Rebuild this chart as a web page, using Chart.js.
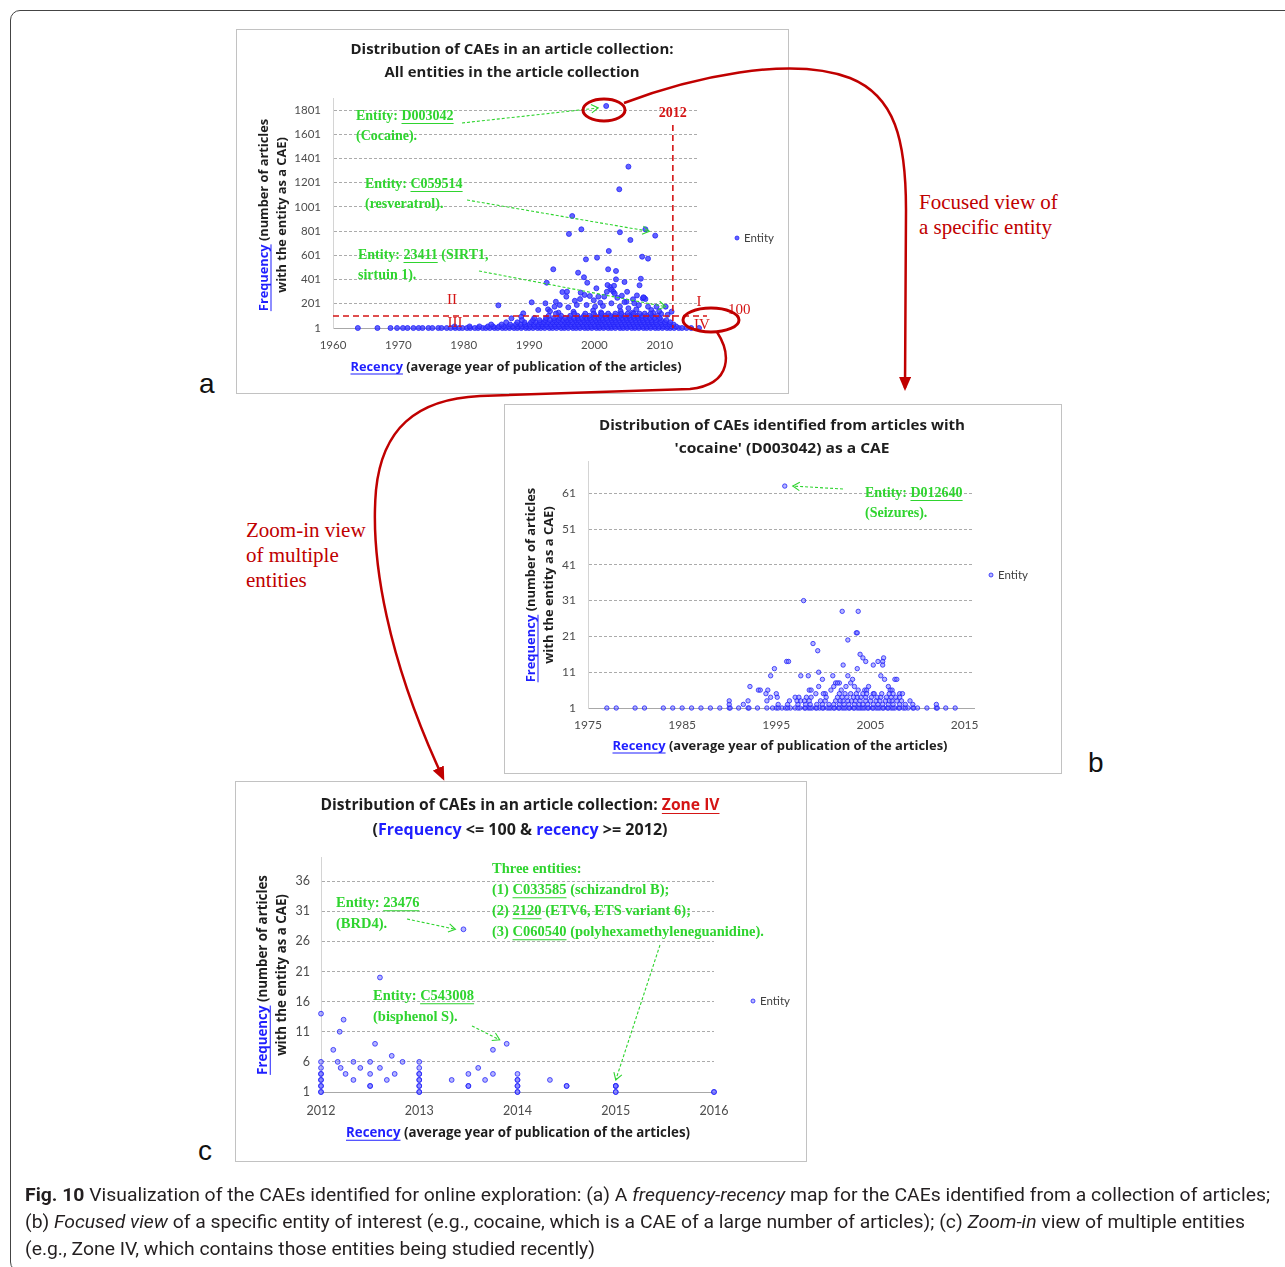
<!DOCTYPE html>
<html>
<head>
<meta charset="utf-8">
<script src="https://cdn.jsdelivr.net/npm/chart.js@4.4.1/dist/chart.umd.min.js"></script>
<style>
  body { margin: 0; background: #fff; }
  #page { position: relative; width: 1285px; height: 1267px; overflow: hidden; background: #fff; }
  #frame { position: absolute; left: 10px; top: 10px; width: 1300px; height: 1262px; border: 1px solid #444; border-radius: 10px; box-sizing: border-box; }
  .panel { position: absolute; outline: 1px solid #c2c2c2; background: #fff; }
  .panel canvas { display: block; }
  .letter { position: absolute; font: 28px 'Liberation Sans', Arial, sans-serif; color: #111; line-height: 32px; }
  .note { position: absolute; font: 21px 'Liberation Serif', 'Times New Roman', serif; color: #c00000; line-height: 25px; white-space: nowrap; }
  #caption { position: absolute; left: 25px; top: 1181px; font: 18px 'Liberation Sans Narrow', 'Roboto', sans-serif; color: #231f20; }
  #caption div { white-space: nowrap; height: 27px; line-height: 27px; }
  #caption span { display: inline-block; transform-origin: 0 50%; }
  svg { position: absolute; left: 0; top: 0; pointer-events: none; }
</style>
</head>
<body>
<div id="page">
  <div id="frame"></div>

  <div class="panel" style="left:237px;top:30px;"><canvas id="chartA" width="551" height="363"></canvas></div>
  <div class="panel" style="left:505px;top:405px;"><canvas id="chartB" width="556" height="368"></canvas></div>
  <div class="panel" style="left:236px;top:782px;"><canvas id="chartC" width="570" height="379"></canvas></div>

  <div class="letter" style="left:199px;top:368px;">a</div>
  <div class="letter" style="left:1088px;top:747px;">b</div>
  <div class="letter" style="left:198px;top:1135px;">c</div>

  <div class="note" style="left:919px;top:190px;">Focused view of<br>a specific entity</div>
  <div class="note" style="left:246px;top:518px;">Zoom-in view<br>of multiple<br>entities</div>

  <svg width="1285" height="1267">
    <defs>
      <marker id="ah" markerWidth="14" markerHeight="12" refX="11" refY="6" orient="auto" markerUnits="userSpaceOnUse">
        <path d="M0,0 L14,6 L0,12 z" fill="#c00000"/>
      </marker>
    </defs>
    <ellipse cx="604" cy="110" rx="21" ry="11" fill="none" stroke="#c00000" stroke-width="3"/>
    <ellipse cx="711" cy="320" rx="28" ry="12" fill="none" stroke="#c00000" stroke-width="3"/>
    <path d="M624 103 C 690 78, 790 55, 850 78 C 895 96, 906 140, 906 210 L 905 388" fill="none" stroke="#c00000" stroke-width="2.5" marker-end="url(#ah)"/>
    <path d="M717 332 C 730 352, 734 384, 690 389 L 480 396 C 415 399, 382 430, 376 490 C 370 560, 388 660, 443 778" fill="none" stroke="#c00000" stroke-width="2.5" marker-end="url(#ah)"/>
  </svg>

  <div id="caption">
    <div><span><b>Fig. 10</b> Visualization of the CAEs identified for online exploration: (a) A <i>frequency-recency</i> map for the CAEs identified from a collection of articles;</span></div>
    <div><span>(b) <i>Focused view</i> of a specific entity of interest (e.g., cocaine, which is a CAE of a large number of articles); (c) <i>Zoom-in</i> view of multiple entities</span></div>
    <div><span>(e.g., Zone IV, which contains those entities being studied recently)</span></div>
  </div>
</div>

<script>
// ---------- panel a: all entities ----------
const aXTicks = [1960, 1970, 1980, 1990, 2000, 2010];
const aYTicks = [1, 201, 401, 601, 801, 1001, 1201, 1401, 1601, 1801];
const aSplitYear = 2012;
const aSplitFreq = 100;

// scattered entities above the dense band
const aYears = [
  2001.8, 2005.2, 2003.8, 1996.6, 1998.0, 1996.1, 2003.9, 2007.8, 2009.3, 2005.5,
  2002.2, 1998.7, 2000.4, 2007.3, 2008.2, 1993.7, 2002.1, 2003.3, 1997.5, 2007.1,
  1992.7, 1998.4, 1998.9, 2003.3, 2004.6, 2006.9, 2002.4, 2002.6, 2002.9, 2003.1,
  1995.1, 1995.8, 1995.7, 1997.0, 1997.9, 1998.5, 1999.3, 2000.3, 2000.6, 2001.5,
  2002.0, 2003.5, 2004.2, 2004.9, 2005.9, 2006.1, 2007.4, 2007.6, 2007.8, 2008.2,
  2009.5, 2010.9, 2011.8, 1990.4, 1989.1, 1991.4, 1992.9, 1993.9, 1994.7, 1996.0,
  1997.3, 1998.8, 2000.1, 2001.3, 2002.6, 2003.9, 2005.2, 2006.4, 2008.7, 1985.3,
  1992.5, 1994.1, 1993.2, 1994.5, 1996.8, 1999.8, 2001.0, 2004.0, 2005.8, 2006.8,
  2009.0, 2010.2, 1997.8, 1999.9, 2001.9, 2003.0, 2005.0, 2006.5, 2000.9, 2004.6,
  2007.5, 1987.3, 1988.8, 2009.9, 2011.2
];
const aFreq = [
  1835, 1334, 1147, 926, 816, 778, 792, 816, 764, 728,
  637, 568, 582, 590, 574, 486, 486, 472, 458, 408,
  375, 420, 375, 403, 381, 354, 340, 318, 300, 285,
  298, 301, 260, 226, 293, 274, 265, 329, 260, 260,
  356, 250, 268, 218, 238, 205, 245, 250, 240, 177,
  177, 177, 136, 213, 122, 150, 155, 177, 191, 172,
  191, 191, 177, 183, 205, 177, 164, 155, 150, 188,
  205, 218, 140, 128, 135, 145, 130, 140, 128, 190,
  125, 118, 240, 230, 300, 350, 300, 270, 210, 215,
  255, 81, 94, 140, 110
];

// dense low-frequency band, one row of years per frequency level
const aBandFreq = [1, 14, 30, 48, 66, 84, 102, 120];
const aBandYears = [
  [1963.8, 1966.8, 1968.8, 1969.8, 1970.7, 1971.4, 1972.3, 1973.1, 1973.7, 1974.6, 1975.2, 1976.1, 1976.6, 1977.4,
   1978.0, 1978.7, 1979.3, 1979.8, 1980.5, 1981.0, 1981.7, 1982.2, 1982.9, 1983.4, 1984.0, 1984.7, 1985.2, 1985.9,
   1986.4, 1987.0, 1987.7, 1988.2, 1988.8, 1989.5, 1990.0, 1990.6, 1991.3, 1991.8, 1992.4, 1993.1, 1993.6, 1994.2,
   1994.9, 1995.4, 1996.0, 1996.7, 1997.2, 1997.8, 1998.5, 1999.0, 1999.6, 2000.3, 2000.8, 2001.4, 2002.1, 2002.6,
   2003.2, 2003.9, 2004.4, 2005.0, 2005.7, 2006.2, 2006.8, 2007.5, 2008.0, 2008.6, 2009.3, 2009.8, 2010.4, 2011.1,
   2011.6, 2012.2, 2012.9, 2013.4, 2014.1, 2014.8, 2016.0],
  [1978.6, 1980.9, 1982.4, 1983.7, 1984.5, 1985.4, 1986.1, 1986.9, 1987.5, 1988.3, 1988.9, 1989.6, 1990.2, 1990.9,
   1991.5, 1992.1, 1992.8, 1993.4, 1994.0, 1994.6, 1995.3, 1995.8, 1996.5, 1997.0, 1997.7, 1998.3, 1998.9, 1999.5,
   2000.1, 2000.7, 2001.4, 2001.9, 2002.6, 2003.1, 2003.8, 2004.3, 2005.0, 2005.5, 2006.2, 2006.8, 2007.4, 2008.0,
   2008.6, 2009.2, 2009.9, 2010.5, 2011.2, 2011.8, 2012.5],
  [1984.2, 1985.8, 1987.1, 1988.0, 1988.7, 1989.4, 1990.1, 1990.7, 1991.4, 1992.0, 1992.6, 1993.3, 1993.9, 1994.5,
   1995.1, 1995.8, 1996.3, 1997.0, 1997.5, 1998.2, 1998.8, 1999.4, 2000.0, 2000.6, 2001.2, 2001.8, 2002.4, 2003.0,
   2003.6, 2004.2, 2004.8, 2005.4, 2006.0, 2006.6, 2007.2, 2007.8, 2008.4, 2009.0, 2009.6, 2010.3, 2010.9, 2011.5, 2012.1],
  [1986.5, 1988.2, 1989.3, 1990.3, 1991.0, 1991.7, 1992.3, 1992.9, 1993.6, 1994.2, 1994.8, 1995.5, 1996.0, 1996.6,
   1997.3, 1997.9, 1998.5, 1999.1, 1999.7, 2000.4, 2000.9, 2001.6, 2002.2, 2002.8, 2003.3, 2004.0, 2004.6, 2005.2,
   2005.8, 2006.4, 2007.0, 2007.6, 2008.2, 2008.8, 2009.4, 2010.1, 2010.8, 2011.6],
  [1988.9, 1990.6, 1991.6, 1992.5, 1993.2, 1993.9, 1994.5, 1995.2, 1995.8, 1996.4, 1997.1, 1997.6, 1998.3, 1998.9,
   1999.5, 2000.2, 2000.8, 2001.3, 2002.0, 2002.6, 2003.2, 2003.8, 2004.4, 2005.0, 2005.6, 2006.3, 2006.9, 2007.4,
   2008.1, 2008.7, 2009.4, 2010.2, 2011.0],
  [1990.8, 1992.6, 1993.8, 1994.7, 1995.5, 1996.2, 1996.9, 1997.5, 1998.1, 1998.8, 1999.3, 2000.0, 2000.6, 2001.2,
   2001.8, 2002.5, 2003.0, 2003.7, 2004.2, 2004.9, 2005.4, 2006.1, 2006.7, 2007.3, 2007.9, 2008.5, 2009.2, 2010.0],
  [1993.0, 1994.9, 1996.3, 1997.4, 1998.4, 1999.2, 2000.1, 2000.9, 2001.7, 2002.4, 2003.1, 2003.9, 2004.6, 2005.3,
   2006.0, 2006.6, 2007.3, 2008.0, 2008.8, 2009.7],
  [1994.1, 1996.9, 1998.6, 1999.9, 2001.1, 2002.1, 2003.2, 2004.1, 2005.1, 2006.0, 2006.9, 2007.7, 2008.6]
];

// ---------- panel b: entities co-occurring with cocaine ----------
const bXTicks = [1975, 1985, 1995, 2005, 2015];
const bYTicks = [1, 11, 21, 31, 41, 51, 61];
const bYears = [
  1995.9, 1997.9, 2002.0, 2003.7, 2003.5, 2003.6, 2002.6, 1998.9, 1999.4, 2003.9,
  2004.2, 2004.5, 2005.8, 2006.4, 2006.3, 1996.1, 1996.3, 1994.8, 2002.1, 2005.3,
  2006.3, 2003.6, 1999.5, 1994.4, 1997.6, 1998.4, 2001.0, 2002.6, 2006.1, 1999.9,
  2003.1, 2006.5, 2007.6, 2007.8, 2001.3, 2002.9, 2001.7, 1992.2, 1999.5, 2001.1,
  2004.8, 2006.9, 1993.1, 1993.3, 1994.1, 1998.5, 1998.7, 2001.9, 2003.7, 2004.4,
  2004.6, 2007.1, 2007.3, 2000.2, 2005.3, 2008.1, 2002.4, 2003.3, 2001.5, 2000.8
];
const bFreq = [
  63, 31, 28, 28, 22, 22, 20, 19, 17, 16,
  15, 14, 14, 15, 14, 14, 14, 12, 13, 13,
  13, 12, 11, 10, 10, 10, 10, 10, 10, 9,
  9, 9, 9, 9, 8, 8, 8, 7, 7, 7,
  7, 7, 6, 6, 6, 6, 6, 6, 6, 6,
  6, 6, 6, 5, 5, 5, 7, 7, 8, 6
];
const bBandFreq = [1, 1, 2, 3, 4, 5];
const bBandYears = [
  [1977, 1978, 1980, 1981, 1983, 1984, 1985, 1986, 1987, 1988, 1989, 1990, 1991, 1992, 1993, 1994, 1994.6, 1995,
   1995.6, 1996, 1996.5, 1997, 1997.5, 1998, 1998.4, 1998.8, 1999.2, 1999.6, 2000, 2000.4, 2000.8, 2001.2, 2001.6,
   2002, 2002.4, 2002.8, 2003.2, 2003.6, 2004, 2004.4, 2004.8, 2005.2, 2005.6, 2006, 2006.4, 2006.8, 2007.2, 2007.6,
   2008, 2008.5, 2009, 2009.5, 2010, 2011, 2012, 2013, 2014],
  [1990.1, 1992.1, 1995.2, 1996.2, 1997.3, 1998.1, 1998.6, 1999.3, 1999.9, 2000.6, 2001.1, 2001.7, 2002.2, 2002.7,
   2003.3, 2003.8, 2004.2, 2004.7, 2005.3, 2005.8, 2006.3, 2006.9, 2007.4, 2008.1, 2008.7, 2009.6, 2012.1],
  [1990, 1991.5, 1995.2, 1996.2, 1997.3, 1998.1, 1998.6, 1999.3, 1999.9, 2000.6, 2001.1, 2001.7, 2002.2, 2002.7,
   2003.3, 2003.8, 2004.2, 2004.7, 2005.3, 2005.8, 2006.3, 2006.9, 2007.4, 2008.1, 2008.7, 2009.5, 2012],
  [1990, 1992, 1994, 1996.4, 1997.2, 1997.6, 1998, 1998.5, 1999.7, 2000.2, 2001.3, 2001.8, 2002.1, 2002.6, 2003,
   2003.4, 2003.9, 2004.5, 2005, 2005.6, 2006, 2006.6, 2007, 2007.3, 2007.8, 2008.3, 2009.2],
  [1994.4, 1995.1, 1997, 1997.4, 1998.2, 1998.7, 2000.3, 2001.5, 2002, 2002.5, 2003.2, 2003.6, 2004, 2004.5,
   2005.1, 2005.7, 2006.1, 2006.7, 2007.2, 2007.7, 2008.1],
  [1993.9, 1995, 1999.2, 2000, 2001.7, 2002.3, 2002.9, 2003.5, 2004.2, 2004.6, 2005.4, 2006.2, 2007, 2007.4, 2008.4]
];

// ---------- panel c: zone IV ----------
const cXTicks = [2012, 2013, 2014, 2015, 2016];
const cYTicks = [1, 6, 11, 16, 21, 26, 31, 36];
const cYears = [
  2012, 2012, 2012, 2012, 2012, 2012, 2012, 2012, 2012, 2012, 2012,
  2012.125, 2012.17, 2012.19, 2012.2, 2012.23, 2012.25, 2012.33, 2012.33, 2012.4, 2012.5,
  2012.5, 2012.5, 2012.5, 2012.55, 2012.6, 2012.6, 2012.67, 2012.72, 2012.75, 2012.83,
  2013, 2013, 2013, 2013, 2013, 2013, 2013, 2013, 2013, 2013,
  2013.33, 2013.45, 2013.5, 2013.5, 2013.5, 2013.6, 2013.67, 2013.75, 2013.75, 2013.89,
  2014, 2014, 2014, 2014, 2014, 2014, 2014, 2014.33, 2014.5, 2014.5,
  2015, 2015, 2015, 2015, 2015, 2016, 2016
];
const cFreq = [
  1, 2, 3, 4, 5, 6, 14, 1, 2, 3, 4,
  8, 6, 11, 5, 13, 4, 6, 3, 5, 6,
  4, 2, 2, 9, 20, 5, 3, 7, 4, 6,
  1, 2, 3, 4, 5, 6, 1, 2, 3, 4,
  3, 28, 4, 2, 2, 5, 3, 8, 4, 9,
  1, 2, 3, 4, 1, 2, 3, 3, 2, 2,
  1, 2, 1, 2, 2, 1, 1
];

const GREEN = '#2fd42f';
const RED = '#d51515';
const BLUE = '#1f1fff';
const DARK = '#1e1e1e';
const PT_FILL = 'rgba(110,110,255,0.5)';
const PT_LINE = 'rgba(35,35,250,0.8)';
const SANS = "Lato, 'Open Sans', sans-serif";
const HEAD = "'Open Sans', 'Noto Sans', 'DejaVu Sans', sans-serif";
const SERIF = "'Liberation Serif', 'DejaVu Serif', serif";

function toPoints(xs, ys) {
  return xs.map((x, i) => ({ x: x, y: ys[i] }));
}
function addBands(pts, freqs, rows) {
  freqs.forEach((f, i) => rows[i].forEach(x => pts.push({ x: x, y: f })));
  return pts;
}

// draws a line of text made of [text, color, underline] parts; returns the x squeeze used
function rich(ctx, parts, x, y, font, opt) {
  opt = opt || {};
  ctx.save();
  ctx.font = font;
  ctx.textBaseline = 'middle';
  ctx.textAlign = 'left';
  const size = parseFloat(font.match(/([\d.]+)px/)[1]);
  const ws = parts.map(p => ctx.measureText(p[0]).width);
  const w = ws.reduce((a, b) => a + b, 0);
  const k = opt.width ? opt.width / w : (opt.k || 1);
  const left = opt.align === 'center' ? x - w * k / 2 : x;
  ctx.translate(left, y);
  ctx.scale(k, 1);
  let cx = 0;
  parts.forEach((p, i) => {
    ctx.fillStyle = p[1] || opt.color || DARK;
    ctx.fillText(p[0], cx, 0);
    if (p[2]) ctx.fillRect(cx, size * 0.5, ws[i], 1);
    cx += ws[i];
  });
  ctx.restore();
  return k;
}

function axisTitles(ctx, c) {
  const font = `bold ${c.tf}px ${HEAD}`;
  const k = rich(ctx, [['Recency', BLUE, true], [' (average year of publication of the articles)']],
    c.xt[0], c.xt[1], font, { align: 'center', width: c.xt[2] });
  [[c.yt[0], [['Frequency', BLUE, true], [' (number of articles']]], [c.yt[1], [['with the entity as a CAE)']]]]
    .forEach(([x, parts]) => {
      ctx.save();
      ctx.translate(x, c.yt[2]);
      ctx.rotate(-Math.PI / 2);
      rich(ctx, parts, 0, 0, font, { align: 'center', k: k });
      ctx.restore();
    });
}

function legend(ctx, x, y, fill) {
  ctx.save();
  ctx.beginPath();
  ctx.arc(x, y, 2, 0, Math.PI * 2);
  ctx.fillStyle = fill; ctx.fill();
  ctx.strokeStyle = PT_LINE; ctx.lineWidth = 1; ctx.stroke();
  ctx.font = `11.5px ${SANS}`;
  ctx.fillStyle = '#404040';
  ctx.textBaseline = 'middle';
  ctx.fillText('Entity', x + 7, y);
  ctx.restore();
}

function arrow(ctx, x1, y1, x2, y2) {
  ctx.save();
  ctx.strokeStyle = GREEN;
  ctx.lineWidth = 1.1;
  ctx.setLineDash([3, 2]);
  ctx.beginPath(); ctx.moveTo(x1, y1); ctx.lineTo(x2, y2); ctx.stroke();
  ctx.setLineDash([]);
  const a = Math.atan2(y2 - y1, x2 - x1);
  ctx.beginPath();
  ctx.moveTo(x2 - 8 * Math.cos(a - 0.55), y2 - 8 * Math.sin(a - 0.55));
  ctx.lineTo(x2, y2);
  ctx.lineTo(x2 - 8 * Math.cos(a + 0.55), y2 - 8 * Math.sin(a + 0.55));
  ctx.stroke();
  ctx.restore();
}

function note(ctx, lines, x, y, size, gap) {
  lines.forEach((parts, i) => rich(ctx, parts, x, y + i * gap, `bold ${size}px ${SERIF}`, { color: GREEN }));
}

function scatter(id, o) {
  const el = document.getElementById(id);
  const W = el.width, H = el.height;
  return new Chart(el, {
    type: 'scatter',
    data: {
      datasets: [{
        label: 'Entity',
        data: o.points,
        pointRadius: o.r,
        pointHoverRadius: o.r,
        borderWidth: 1,
        backgroundColor: o.fill,
        borderColor: PT_LINE,
        clip: false
      }]
    },
    options: {
      responsive: false,
      animation: false,
      events: [],
      layout: { padding: { left: 0, top: o.area[1], right: W - o.area[2], bottom: 0 } },
      plugins: { legend: { display: false }, tooltip: { enabled: false } },
      scales: {
        x: {
          type: 'linear', min: o.xMin, max: o.xMax,
          grid: { display: false, drawTicks: false },
          border: { color: '#a8a8a8', width: 1 },
          ticks: { color: '#4d4d4d', font: { family: SANS, size: o.ts }, padding: o.pad[0],
            autoSkip: false, maxRotation: 0, callback: v => String(v) },
          afterBuildTicks: s => { s.ticks = o.xTicks.map(v => ({ value: v })); },
          afterFit: s => { s.height = H - o.area[3]; }
        },
        y: {
          type: 'linear', min: o.yMin, max: o.yMax,
          grid: { color: '#ababab', drawTicks: false, lineWidth: 1 },
          border: { color: '#d4d4d4', width: 1, dash: [3, 2] },
          ticks: { color: '#4d4d4d', font: { family: SANS, size: o.ts }, padding: o.pad[1],
            autoSkip: false, callback: v => String(v) },
          afterBuildTicks: s => { s.ticks = o.yTicks.map(v => ({ value: v })); },
          afterFit: s => { s.width = o.area[0]; }
        }
      }
    },
    plugins: [{ id: 'deco', afterDraw: c => o.deco(c, c.ctx, c.scales.x, c.scales.y) }]
  });
}

// ---- panel a
const A_FILL = 'rgba(60,60,255,0.8)';
scatter('chartA', {
  points: addBands(toPoints(aYears, aFreq), aBandFreq, aBandYears),
  r: 2.5, ts: 11.5, pad: [10, 12], fill: A_FILL,
  area: [96, 68, 462, 298],
  xMin: 1960, xMax: 2016, xTicks: aXTicks,
  yMin: 1, yMax: 1901, yTicks: aYTicks,
  deco: (c, ctx, sx, sy) => {
    const ca = c.chartArea;
    rich(ctx, [['Distribution of CAEs in an article collection:']], 275, 20, `bold 15px ${HEAD}`, { align: 'center', width: 323 });
    rich(ctx, [['All entities in the article collection']], 275, 43, `bold 15px ${HEAD}`, { align: 'center', width: 255 });
    axisTitles(ctx, { tf: 13, xt: [279, 337, 331], yt: [27, 45, 185] });
    legend(ctx, 500, 208, A_FILL);

    // zone split lines
    const xs = sx.getPixelForValue(aSplitYear), ys = sy.getPixelForValue(aSplitFreq);
    ctx.save();
    ctx.strokeStyle = RED; ctx.lineWidth = 1.6; ctx.setLineDash([6, 4]);
    ctx.beginPath(); ctx.moveTo(xs, 95); ctx.lineTo(xs, ca.bottom); ctx.stroke();
    ctx.beginPath(); ctx.moveTo(ca.left, ys); ctx.lineTo(ca.right + 8, ys); ctx.stroke();
    ctx.restore();
    rich(ctx, [[String(aSplitYear)]], xs, 83, `bold 14px ${SERIF}`, { align: 'center', color: RED });
    rich(ctx, [[String(aSplitFreq)]], 491, 280, `15px ${SERIF}`, { color: RED });
    rich(ctx, [['I']], 462, 272, `15px ${SERIF}`, { align: 'center', color: RED });
    rich(ctx, [['II']], 215, 270, `15px ${SERIF}`, { align: 'center', color: RED });
    rich(ctx, [['III']], 218, 293, `15px ${SERIF}`, { align: 'center', color: RED });
    rich(ctx, [['IV']], 465, 295, `15px ${SERIF}`, { align: 'center', color: RED });

    // entity call-outs
    note(ctx, [[['Entity: '], ['D003042', null, true]], [['(Cocaine).']]], 119, 86, 14, 20);
    arrow(ctx, 225, 93, sx.getPixelForValue(aYears[0]) - 8, sy.getPixelForValue(aFreq[0]) + 2);
    note(ctx, [[['Entity: '], ['C059514', null, true]], [['(resveratrol).']]], 128, 154, 14, 20);
    arrow(ctx, 230, 170, sx.getPixelForValue(aYears[7]) + 4, sy.getPixelForValue(aFreq[7]) + 2);
    note(ctx, [[['Entity: '], ['23411', null, true], [' (SIRT1,']], [['sirtuin 1).']]], 121, 225, 14, 20);
    arrow(ctx, 242, 241, sx.getPixelForValue(aYears[52]) - 6, sy.getPixelForValue(aFreq[52]) - 5);
  }
});

// ---- panel b
scatter('chartB', {
  points: addBands(toPoints(bYears, bFreq), bBandFreq, bBandYears),
  r: 2.2, ts: 12, pad: [10, 12], fill: PT_FILL,
  area: [83, 56, 469, 303],
  xMin: 1975, xMax: 2016, xTicks: bXTicks,
  yMin: 1, yMax: 70, yTicks: bYTicks,
  deco: (c, ctx, sx, sy) => {
    rich(ctx, [['Distribution of CAEs identified from articles with']], 277, 21, `bold 15px ${HEAD}`, { align: 'center', width: 366 });
    rich(ctx, [["'cocaine' (D003042) as a CAE"]], 277, 44, `bold 15px ${HEAD}`, { align: 'center', width: 215 });
    axisTitles(ctx, { tf: 13, xt: [275, 341, 335], yt: [26, 44, 180] });
    legend(ctx, 486, 170, PT_FILL);
    note(ctx, [[['Entity: '], ['D012640', null, true]], [['(Seizures).']]], 360, 88, 14, 20);
    arrow(ctx, 338, 84, sx.getPixelForValue(bYears[0]) + 8, sy.getPixelForValue(bFreq[0]));
  }
});

// ---- panel c
scatter('chartC', {
  points: toPoints(cYears, cFreq),
  r: 2.4, ts: 12.5, pad: [11, 11], fill: PT_FILL,
  area: [85, 75, 478, 310],
  xMin: 2012, xMax: 2016, xTicks: cXTicks,
  yMin: 1, yMax: 40, yTicks: cYTicks,
  deco: (c, ctx, sx, sy) => {
    rich(ctx, [['Distribution of CAEs in an article collection: '], ['Zone IV', RED, true]], 284, 23, `bold 16px ${HEAD}`, { align: 'center', width: 399 });
    rich(ctx, [['('], ['Frequency', BLUE], [' <= 100 & '], ['recency', BLUE], [' >= 2012)']], 284, 48, `bold 16px ${HEAD}`, { align: 'center', width: 295 });
    axisTitles(ctx, { tf: 13.5, xt: [282, 351, 344], yt: [27, 46, 193] });
    legend(ctx, 517, 219, PT_FILL);

    note(ctx, [[['Entity: '], ['23476', null, true]], [['(BRD4).']]], 100, 121, 14.5, 21);
    arrow(ctx, 171, 137, sx.getPixelForValue(cYears[42]) - 8, sy.getPixelForValue(cFreq[42]));

    note(ctx, [
      [['Three entities:']],
      [['(1) '], ['C033585', null, true], [' (schizandrol B);']],
      [['(2) '], ['2120', null, true], [' (ETV6, ETS variant 6);']],
      [['(3) '], ['C060540', null, true], [' (polyhexamethyleneguanidine).']]
    ], 256, 87, 14.5, 21);
    arrow(ctx, 424, 163, sx.getPixelForValue(2015), sy.getPixelForValue(2) - 6);

    note(ctx, [[['Entity: '], ['C543008', null, true]], [['(bisphenol S).']]], 137, 214, 14.5, 21);
    arrow(ctx, 236, 244, sx.getPixelForValue(cYears[50]) - 7, sy.getPixelForValue(cFreq[50]) - 4);
  }
});

// squeeze the caption lines to the printed width
(function () {
  const spans = document.querySelectorAll('#caption span');
  const k = 1245 / spans[0].getBoundingClientRect().width;
  spans.forEach(s => { s.style.transform = `scaleX(${k})`; });
})();
</script>
</body>
</html>
